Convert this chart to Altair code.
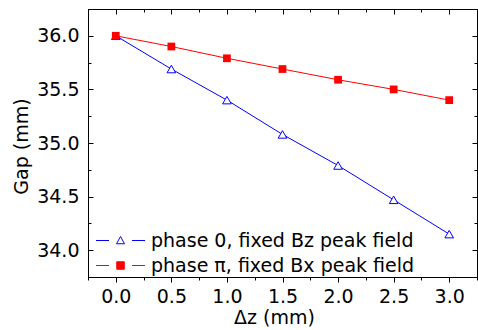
import altair as alt
import pandas as pd

# ---- data ----
dz = [0.0, 0.5, 1.0, 1.5, 2.0, 2.5, 3.0]
gap_phase0 = [36.0, 35.69, 35.40, 35.08, 34.79, 34.47, 34.15]
gap_phasepi = [36.0, 35.90, 35.79, 35.69, 35.59, 35.50, 35.40]
series_names = ["phase 0, fixed Bz peak field", "phase \u03c0, fixed Bx peak field"]
series_colors = ["#0000FF", "#FF0000"]
x_ticks = [-0.25, 0.0, 0.25, 0.5, 0.75, 1.0, 1.25, 1.5, 1.75, 2.0, 2.25, 2.5, 2.75, 3.0, 3.25]
y_ticks = [33.75, 34.0, 34.25, 34.5, 34.75, 35.0, 35.25, 35.5, 35.75, 36.0, 36.25]

rows = []
for name, vals in zip(series_names, [gap_phase0, gap_phasepi]):
    for x, y in zip(dz, vals):
        rows.append({"dz": x, "gap": y, "series": name})
df = pd.DataFrame(rows)

FONT = "DejaVu Sans"
FS = 19
xscale = alt.Scale(domain=[-0.25, 3.25], nice=False, zero=False)
yscale = alt.Scale(domain=[33.75, 36.25], nice=False, zero=False)
minor = "datum.value % 0.5 !== 0"
lab = "datum.value % 0.5 === 0 ? format(datum.value, '.1f') : ''"
dash_out = {"condition": {"test": minor, "value": [3, 10]}, "value": [10, 0]}
dash_in = {"condition": {"test": minor, "value": [0, 2, 3, 10]}, "value": [10, 0]}

x_bottom = alt.Axis(values=x_ticks, labelExpr=lab, tickSize=5, tickDash=dash_out,
                    domain=False, grid=False, labelPadding=5, labelFlush=False,
                    title="\u0394z (mm)", titleX=186, titleY=31)
y_left = alt.Axis(values=y_ticks, labelExpr=lab, tickSize=5, tickDash=dash_in, offset=-5,
                  domain=False, grid=False, labelPadding=9, labelFlush=False,
                  title="Gap (mm)", titleX=-62, titleY=137)
x_top = alt.Axis(orient="top", values=x_ticks, labels=False, title="",
                 tickSize=5, tickDash=dash_in, offset=-5, domain=False, grid=False)
y_right = alt.Axis(orient="right", values=y_ticks, labels=False, title="",
                   tickSize=5, tickDash=dash_in, offset=-5, domain=False, grid=False)

base = alt.Chart(df)
Xn = alt.X("dz:Q", scale=xscale, axis=None)
Yn = alt.Y("gap:Q", scale=yscale, axis=None)

# frame + main axes (no visible marks)
axes_main = base.transform_filter("false").mark_point().encode(
    x=alt.X("dz:Q", scale=xscale, axis=x_bottom),
    y=alt.Y("gap:Q", scale=yscale, axis=y_left),
)
line0 = base.transform_filter(alt.datum.series == series_names[0]).mark_line(
    strokeWidth=1, color=series_colors[0]).encode(x=Xn, y=Yn, order="dz:Q")
line1 = base.transform_filter(alt.datum.series == series_names[1]).mark_line(
    strokeWidth=1, color=series_colors[1]).encode(x=Xn, y=Yn, order="dz:Q")
tris = base.transform_filter(alt.datum.series == series_names[0]).mark_point(
    shape="triangle-up", size=75, filled=True, fill="white", stroke=series_colors[0],
    strokeWidth=1, opacity=1).encode(x=Xn, y=Yn)
sqs = base.transform_filter(alt.datum.series == series_names[1]).mark_square(
    size=60, color=series_colors[1], opacity=1).encode(x=Xn, y=Yn)

# legend symbols: line - marker - line (custom symbol paths)
tri_path = "M-4.9,0H-2.3M2.3,0H4.9M0,-0.8L0.8,0.65L-0.8,0.65Z"
sq_path = "M-4.9,0H-2.3M2.3,0H4.9M-0.75,-0.75H0.75V0.75H-0.75Z"
leg = alt.Legend(orient="none", legendX=23, legendY=222, title="", labelFont=FONT,
                 labelFontSize=FS, labelColor="black", symbolSize=100, symbolStrokeWidth=1,
                 symbolOpacity=1, labelOffset=21, rowPadding=5, padding=0, labelLimit=0)
legend_layer = base.transform_filter("false").mark_point().encode(
    x=Xn, y=Yn,
    shape=alt.Shape("series:N", scale=alt.Scale(domain=series_names, range=[tri_path, sq_path]), legend=leg),
    stroke=alt.Stroke("series:N", scale=alt.Scale(domain=series_names, range=series_colors), legend=leg),
    fill=alt.Fill("series:N", scale=alt.Scale(domain=series_names, range=["white", series_colors[1]]), legend=leg),
)

mirror = base.transform_filter("false").mark_point().encode(
    x=alt.X("dz:Q", scale=xscale, axis=x_top),
    y=alt.Y("gap:Q", scale=yscale, axis=y_right),
)

chart = alt.layer(axes_main, line0, line1, tris, sqs, legend_layer, mirror).resolve_axis(
    x="independent", y="independent"
).properties(
    width=389, height=268,
    autosize=alt.AutoSizeParams(type="none"),
    padding={"left": 88, "top": 9, "right": 1, "bottom": 53},
    background="white",
).configure_view(stroke="black", strokeWidth=1).configure_axis(
    labelFont=FONT, labelFontSize=FS, labelColor="black", titleFont=FONT, titleFontSize=FS,
    titleColor="black", titleFontWeight="normal", tickColor="black", tickWidth=1,
)

chart.save("out.html", embed_options={"renderer": "svg", "actions": False})
